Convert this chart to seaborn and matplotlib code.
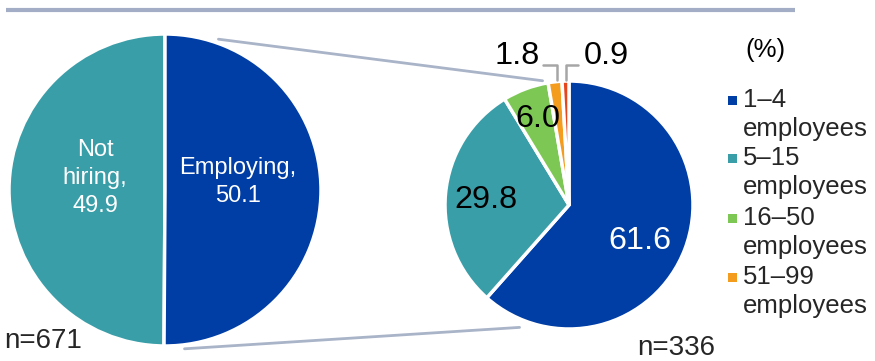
import numpy as np
import matplotlib
matplotlib.use("Agg")
import matplotlib.pyplot as plt
from matplotlib.patches import Rectangle
import seaborn as sns

# Overall split of respondents (n=671)
overall_labels = ["Not hiring", "Employing"]
overall_values = [49.9, 50.1]

# Breakdown of employing firms by size (n=336)
size_labels = ["1–4\nemployees", "5–15\nemployees", "16–50\nemployees",
               "51–99\nemployees", "100+\nemployees"]
size_values = [61.6, 29.8, 6.0, 1.8, 0.9]

n_overall = 671
n_employing = 336

sns.set_theme(style="white")
plt.rcParams["font.family"] = ["Liberation Sans", "DejaVu Sans"]

palette = sns.color_palette(["#003DA5", "#3A9EA8", "#7DC855", "#F39C1E", "#E5461C"])
overall_colors = [palette[1], palette[0]]

W, H = 875, 361
fig = plt.figure(figsize=(W / 100, H / 100), dpi=100)
ax = fig.add_axes([0, 0, 1, 1])


def Y(y):
    # convert a top-down pixel row to the axis' bottom-up coordinate
    return H - y


# pie geometry
c1, r1 = (165, Y(190)), 156
c2, r2 = (569, Y(205)), 124

ax.pie(overall_values, colors=overall_colors, startangle=90, counterclock=True,
       center=c1, radius=r1, frame=True,
       wedgeprops=dict(edgecolor="white", linewidth=2.5))
ax.pie(size_values, colors=list(palette), startangle=90, counterclock=False,
       center=c2, radius=r2, frame=True,
       wedgeprops=dict(edgecolor="white", linewidth=2.5))
ax.set_xlim(0, W)
ax.set_ylim(0, H)
ax.set_aspect("equal")
ax.axis("off")

# horizontal rule across the top
ax.plot([6, 795], [Y(10), Y(10)], color="#A3AEC6", lw=3, solid_capstyle="butt")


def on_circle(c, r, deg):
    a = np.deg2rad(deg)
    return c[0] + r * np.cos(a), c[1] + r * np.sin(a)


# connector lines from the "Employing" slice to the breakdown pie
conn = "#A9B4C8"
p1 = on_circle(c1, r1 + 4, 70.5)
p2 = on_circle(c2, r2 + 3, 102)
ax.plot([p1[0], p2[0]], [p1[1], p2[1]], color=conn, lw=2)
p3 = on_circle(c1, r1 + 4, -83)
p4 = on_circle(c2, r2 + 8, -112)
ax.plot([p3[0], p4[0]], [p3[1], p4[1]], color=conn, lw=2)

# labels on the overall pie
ax.text(95, Y(178), f"Not\nhiring,\n{overall_values[0]:.1f}", color="white",
        fontsize=17, ha="center", va="center", linespacing=1.35)
ax.text(238, Y(182), f"Employing,\n{overall_values[1]:.1f}", color="white",
        fontsize=17, ha="center", va="center", linespacing=1.35)

# labels on the breakdown pie
big = 23.3
ax.text(640, Y(241), f"{size_values[0]:.1f}", color="white", fontsize=big,
        ha="center", va="center")
ax.text(486, Y(200), f"{size_values[1]:.1f}", color="black", fontsize=big,
        ha="center", va="center")
ax.text(538, Y(119), f"{size_values[2]:.1f}", color="black", fontsize=big,
        ha="center", va="center")
ax.text(517, Y(56), f"{size_values[3]:.1f}", color="black", fontsize=big,
        ha="center", va="center")
ax.text(606, Y(56), f"{size_values[4]:.1f}", color="black", fontsize=big,
        ha="center", va="center")

# leader lines for the two small slices
lead = "#A6A6A6"
ax.plot([543, 557, 557], [Y(65), Y(65), Y(80)], color=lead, lw=1.8)
ax.plot([578, 566, 566], [Y(65), Y(65), Y(80)], color=lead, lw=1.8)

# legend
fs_leg = 18.5
ax.text(765, Y(50), "(%)", fontsize=fs_leg, ha="center", va="center", color="black")
legend_rows = [100, 158, 218, 277]
for lab, col, yr in zip(size_labels[:4], palette[:4], legend_rows):
    ax.add_patch(Rectangle((728, Y(yr) - 4.5), 9, 9, color=col, lw=0))
    first, second = lab.split("\n")
    ax.text(743, Y(yr), first, fontsize=fs_leg, ha="left", va="center")
    ax.text(743, Y(yr + 29), second, fontsize=fs_leg, ha="left", va="center")

# sample sizes
ax.text(4, Y(341), f"n={n_overall}", fontsize=20, ha="left", va="center")
ax.text(637, Y(348), f"n={n_employing}", fontsize=20, ha="left", va="center")

fig.savefig("out.png", dpi=100)
